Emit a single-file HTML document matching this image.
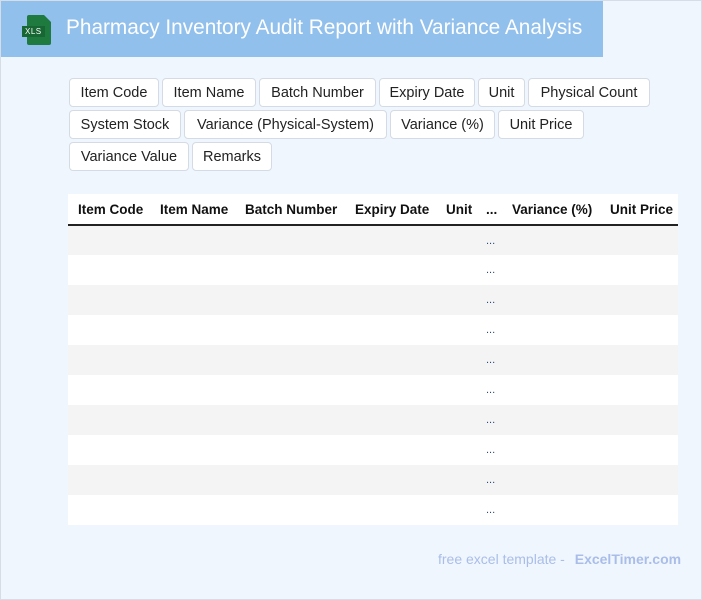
<!DOCTYPE html>
<html><head><style>
body{margin:0;width:702px;height:600px;background:#f0f6fe;font-family:"Liberation Sans",sans-serif;position:relative;overflow:hidden}
.frame{position:absolute;left:0;top:0;width:700px;height:598px;border:1px solid #d6dde6}
.bar{position:absolute;left:1px;top:1px;width:602px;height:56px;background:#92c0ec}
.title{position:absolute;left:65px;top:15px;color:#fff;font-size:20.8px}
.icon{position:absolute;left:26px;top:14px;width:24px;height:30px;background:#1e7a3f;border-radius:2px}
.icon:after{content:"";position:absolute;right:0;top:0;border-style:solid;border-width:0 7px 7px 0;border-color:transparent #92c0ec transparent transparent}
.xls{position:absolute;left:21px;top:25px;background:#176634;color:#fff;font-size:8px;padding:1px 3px;letter-spacing:0.5px}
.chip{position:absolute;height:27px;line-height:28px;background:#fff;border:1px solid #d4dbe4;border-radius:4px;font-size:14.5px;color:#222;text-align:center;box-sizing:content-box}
.tbl{position:absolute;left:68px;top:194px;width:610px;height:331px;background:#fff}
.hd{position:absolute;top:0;height:30px;width:610px;border-bottom:2px solid #222}
.hd span{position:absolute;top:8px;font-weight:bold;font-size:13.5px;color:#111}
.row{position:absolute;left:0;width:610px;height:30px}
.row span{position:absolute;left:418px;top:9px;font-size:11px;color:#2a4a7a}
.foot{position:absolute;left:438px;top:551px;font-size:14px;color:#a9bde8}
.foot b{margin-left:6px}
</style></head><body>
<div class="frame"></div>
<div class="bar"><div class="icon"></div><div class="xls">XLS</div><div class="title">Pharmacy Inventory Audit Report with Variance Analysis</div></div>
<div class="chip" style="left:69px;top:78px;width:88px">Item Code</div>
<div class="chip" style="left:162px;top:78px;width:92px">Item Name</div>
<div class="chip" style="left:259px;top:78px;width:115px">Batch Number</div>
<div class="chip" style="left:379px;top:78px;width:94px">Expiry Date</div>
<div class="chip" style="left:478px;top:78px;width:45px">Unit</div>
<div class="chip" style="left:528px;top:78px;width:120px">Physical Count</div>
<div class="chip" style="left:69px;top:110px;width:110px">System Stock</div>
<div class="chip" style="left:184px;top:110px;width:201px">Variance (Physical-System)</div>
<div class="chip" style="left:390px;top:110px;width:103px">Variance (%)</div>
<div class="chip" style="left:498px;top:110px;width:84px">Unit Price</div>
<div class="chip" style="left:69px;top:142px;width:118px">Variance Value</div>
<div class="chip" style="left:192px;top:142px;width:78px">Remarks</div>
<div class="tbl">
<div class="hd"><span style="left:10px">Item Code</span><span style="left:92px">Item Name</span><span style="left:177px">Batch Number</span><span style="left:287px">Expiry Date</span><span style="left:378px">Unit</span><span style="left:418px">...</span><span style="left:444px">Variance (%)</span><span style="left:542px">Unit Price</span></div>
<div class="row" style="top:32px;height:29px;background:#f4f4f4"><span>...</span></div>
<div class="row" style="top:61px"><span>...</span></div>
<div class="row" style="top:91px;background:#f4f4f4"><span>...</span></div>
<div class="row" style="top:121px"><span>...</span></div>
<div class="row" style="top:151px;background:#f4f4f4"><span>...</span></div>
<div class="row" style="top:181px"><span>...</span></div>
<div class="row" style="top:211px;background:#f4f4f4"><span>...</span></div>
<div class="row" style="top:241px"><span>...</span></div>
<div class="row" style="top:271px;background:#f4f4f4"><span>...</span></div>
<div class="row" style="top:301px"><span>...</span></div>
</div>
<div class="foot">free excel template - <b>ExcelTimer.com</b></div>
</body></html>
